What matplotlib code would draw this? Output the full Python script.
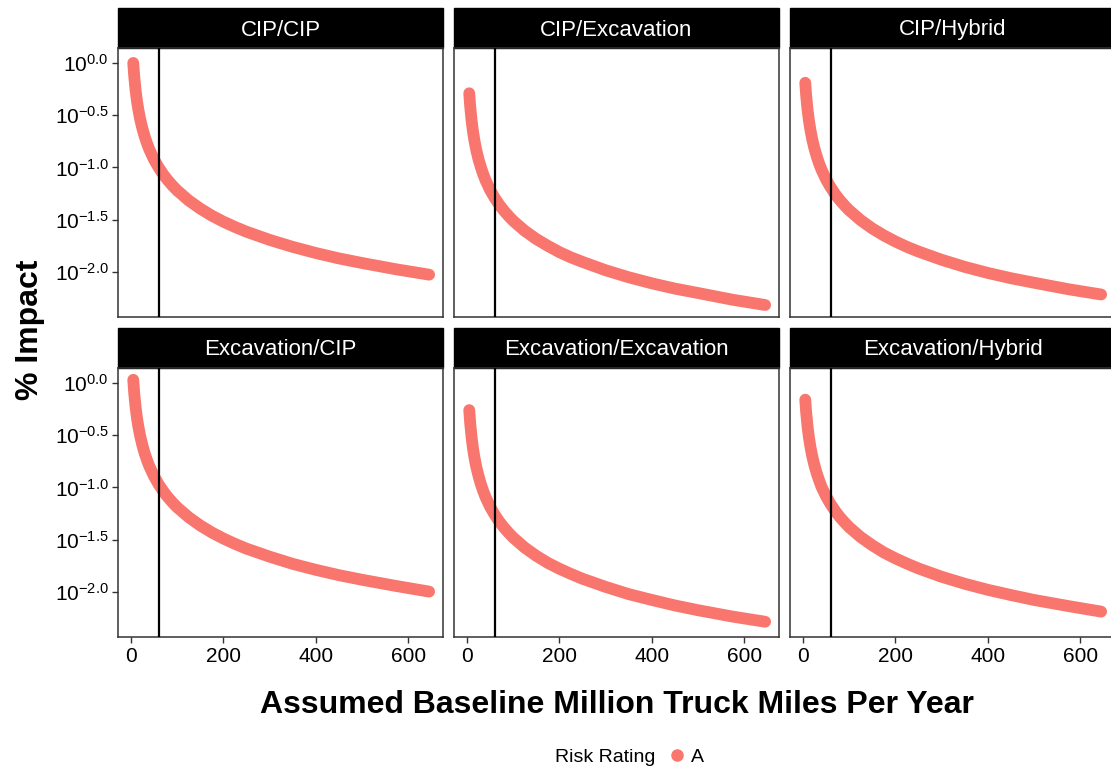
import matplotlib
matplotlib.use("Agg")
import matplotlib.pyplot as plt
from matplotlib.lines import Line2D
from matplotlib.patches import Rectangle

plt.rcParams['font.family'] = ['Liberation Sans', 'DejaVu Sans']
plt.rcParams['mathtext.fontset'] = 'custom'
plt.rcParams['mathtext.rm'] = 'Liberation Sans'
plt.rcParams['mathtext.it'] = 'Liberation Sans:italic'
plt.rcParams['mathtext.bf'] = 'Liberation Sans:bold'

# data
panels = ["CIP/CIP", "CIP/Excavation", "CIP/Hybrid",
          "Excavation/CIP", "Excavation/Excavation", "Excavation/Hybrid"]

miles = [5, 7, 10, 13, 16, 20, 25, 30, 35, 40, 50, 60, 70, 80, 90, 100, 125, 150,
         175, 200, 225, 250, 300, 350, 400, 450, 500, 575, 645]

cip_cip = [1.000, 0.753, 0.550, 0.433, 0.357, 0.289, 0.234, 0.196, 0.169, 0.148,
           0.119, 0.0998, 0.0858, 0.0752, 0.0670, 0.0603, 0.0484, 0.0404, 0.0346,
           0.0303, 0.0270, 0.0243, 0.0203, 0.0174, 0.0152, 0.0135, 0.0122, 0.0106,
           0.00944]
cip_exc = [0.513, 0.386, 0.282, 0.222, 0.183, 0.148, 0.120, 0.101, 0.0867, 0.0759,
           0.0610, 0.0512, 0.0440, 0.0386, 0.0344, 0.0309, 0.0248, 0.0207, 0.0178,
           0.0155, 0.0138, 0.0125, 0.0104, 0.00891, 0.0078, 0.00694, 0.0063, 0.00543,
           0.00484]
cip_hyb = [0.646, 0.486, 0.355, 0.280, 0.231, 0.187, 0.151, 0.127, 0.109, 0.0956,
           0.0769, 0.0645, 0.0554, 0.0486, 0.0433, 0.0390, 0.0313, 0.0261, 0.0224,
           0.0196, 0.0174, 0.0157, 0.0131, 0.0112, 0.0098, 0.00873, 0.0079, 0.00684,
           0.0061]
exc_cip = [1.072, 0.807, 0.590, 0.464, 0.383, 0.310, 0.251, 0.210, 0.181, 0.159,
           0.128, 0.107, 0.0920, 0.0806, 0.0718, 0.0646, 0.0519, 0.0433, 0.0371,
           0.0325, 0.0289, 0.0260, 0.0218, 0.0186, 0.0163, 0.0145, 0.0131, 0.0114,
           0.0101]
exc_exc = [0.550, 0.414, 0.303, 0.238, 0.196, 0.159, 0.129, 0.108, 0.0930, 0.0814,
           0.0655, 0.0549, 0.0472, 0.0414, 0.0369, 0.0332, 0.0266, 0.0222, 0.0190,
           0.0167, 0.0149, 0.0134, 0.0112, 0.00955, 0.0084, 0.00744, 0.0067, 0.00582,
           0.0052]
exc_hyb = [0.692, 0.521, 0.381, 0.300, 0.247, 0.200, 0.162, 0.136, 0.117, 0.102,
           0.0823, 0.0691, 0.0594, 0.0520, 0.0464, 0.0417, 0.0335, 0.0280, 0.0239,
           0.0210, 0.0187, 0.0168, 0.0140, 0.0120, 0.0105, 0.00936, 0.0084, 0.00733,
           0.0065]
impacts = [cip_cip, cip_exc, cip_hyb, exc_cip, exc_exc, exc_hyb]

baseline = 60
ytick_exp = [0.0, -0.5, -1.0, -1.5, -2.0]
ytick_labels = [r"$10^{0.0}$", r"$10^{-0.5}$", r"$10^{-1.0}$",
                r"$10^{-1.5}$", r"$10^{-2.0}$"]
xticks = [0, 200, 400, 600]

red = "#F8766D"
W, H = 1111, 770
fig = plt.figure(figsize=(W / 100, H / 100), dpi=100)

lefts = [118, 454, 790]
tops = [48, 368]
pw, ph = 325, 269
strip_h = 40

for k, name in enumerate(panels):
    r, c = divmod(k, 3)
    ax = fig.add_axes([lefts[c] / W, 1 - (tops[r] + ph) / H, pw / W, ph / H])
    ax.plot(miles, impacts[k], color=red, lw=8.5, solid_capstyle='round',
            solid_joinstyle='round', zorder=2)
    ax.axvline(baseline, color='black', lw=1.6, zorder=3)
    ax.set_yscale('log')
    ax.set_xlim(-28, 675)
    ax.set_ylim(10 ** -2.43, 10 ** 0.143)
    ax.minorticks_off()
    ax.set_yticks([10 ** e for e in ytick_exp])
    ax.set_xticks(xticks)
    for s in ax.spines.values():
        s.set_color('#333333')
        s.set_linewidth(1.1)
    ax.tick_params(length=4, width=1, color='#333333', labelsize=15, pad=3)
    if c == 0:
        ax.set_yticklabels(ytick_labels)
    else:
        ax.tick_params(axis='y', left=False, labelleft=False)
    if r == 1:
        ax.set_xticklabels([str(v) for v in xticks])
    else:
        ax.tick_params(axis='x', bottom=False, labelbottom=False)
    # strip
    sh = strip_h / ph
    ax.add_patch(Rectangle((0, 1), 1, sh, transform=ax.transAxes, facecolor='black',
                           edgecolor='black', clip_on=False))
    ax.text(0.5, 1 + sh / 2 - 2 / ph, name, transform=ax.transAxes, color='white',
            fontsize=16, ha='center', va='center')

fig.text(30 / W, 1 - 330 / H, "% Impact", rotation=90, fontsize=23,
         fontweight='bold', ha='center', va='center')
fig.text(617 / W, 1 - 705 / H, "Assumed Baseline Million Truck Miles Per Year",
         fontsize=23, fontweight='bold', ha='center', va='center')

fig.text(655 / W, 1 - 757 / H, "Risk Rating", fontsize=14, ha='right', va='center')
h = Line2D([], [], color=red, marker='o', ls='none', markersize=8)
fig.legend(handles=[h], labels=["A"], loc='center left',
           bbox_to_anchor=(656 / W, 1 - 757 / H), frameon=False, fontsize=14,
           handletextpad=0.1, borderpad=0, handlelength=1.2)

fig.savefig("out.png", dpi=100)
